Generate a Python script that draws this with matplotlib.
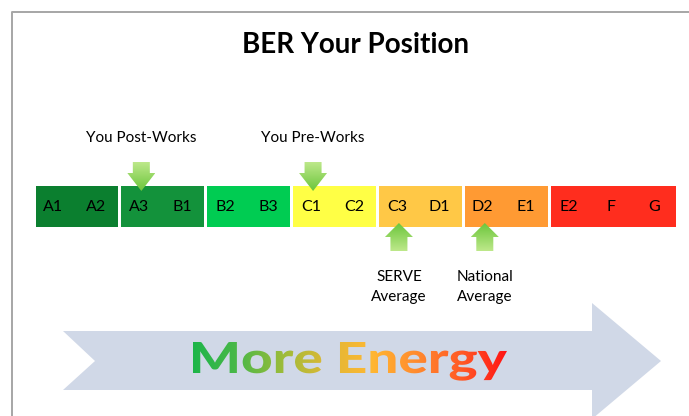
import numpy as np
import matplotlib
matplotlib.use("Agg")
import matplotlib.pyplot as plt
from matplotlib.patches import Polygon, PathPatch
from matplotlib.textpath import TextPath
from matplotlib.font_manager import FontProperties
from matplotlib.transforms import Affine2D
from matplotlib.colors import LinearSegmentedColormap

plt.rcParams['font.family'] = ['Lato', 'DejaVu Sans']

# Datos de la escala BER
ratings = ["A1", "A2", "A3", "B1", "B2", "B3", "C1", "C2",
           "C3", "D1", "D2", "E1", "E2", "F", "G"]
bands = [["A1", "A2"], ["A3", "B1"], ["B2", "B3"], ["C1", "C2"],
         ["C3", "D1"], ["D2", "E1"], ["E2", "F", "G"]]
band_colors = ["#0b7f2f", "#13923b", "#00cc52", "#ffff45",
               "#ffc846", "#ff9a33", "#ff2d1e"]

# Marcadores (etiqueta -> calificacion)
marks_above = {"You Post-Works": "A3", "You Pre-Works": "C1"}
marks_below = {"SERVE\nAverage": "C3", "National\nAverage": "D2"}

W, H = 689, 416
fig = plt.figure(figsize=(W / 100, H / 100), dpi=100)

# Capa de fondo en pixeles (borde, titulo, flecha grande)
bg = fig.add_axes([0, 0, 1, 1])
bg.set_xlim(0, W)
bg.set_ylim(H, 0)
bg.axis("off")

bg.plot([12, 12, W], [H, 12, 12], color="#a6a6a6", lw=1.4, solid_capstyle="butt")
bg.text(356, 45, "BER Your Position", ha="center", va="center",
        fontsize=20, fontweight="bold", color="black")

big_arrow = Polygon([(63, 331), (592, 331), (592, 303), (661, 361), (592, 419),
                     (592, 390), (63, 390), (95, 361)],
                    closed=True, facecolor="#d0d8e7", edgecolor="none", zorder=1)
bg.add_patch(big_arrow)

# Texto con degradado "More Energy"
fp = FontProperties(family="Lato", weight=900)
tp = TextPath((0, 0), "More Energy", size=1, prop=fp)
bb = tp.get_extents()
cap = TextPath((0, 0), "M", size=1, prop=fp).get_extents().height
x0, x1, base, cap_px = 193, 507, 373, 31
sx = (x1 - x0) / bb.width
sy = cap_px / cap
tr = Affine2D().translate(-bb.x0, 0).scale(sx, -sy).translate(x0, base)
text_patch = PathPatch(tr.transform_path(tp), facecolor="none", edgecolor="none",
                       transform=bg.transData)
bg.add_patch(text_patch)
energy_cmap = LinearSegmentedColormap.from_list(
    "energy", ["#1db54a", "#4cb848", "#9cbc3a", "#e0b836", "#ffb733",
               "#ff8a2e", "#ff5a26", "#ff1414"])
grad = np.linspace(0, 1, 256).reshape(1, -1)
im = bg.imshow(grad, extent=(x0, x1, base + 14, base - 36), cmap=energy_cmap,
               aspect="auto", zorder=2, interpolation="bilinear")
im.set_clip_path(text_patch)
bg.set_xlim(0, W)
bg.set_ylim(H, 0)

# Escala de calificaciones: x en unidades de calificacion, y en pixeles
ax = fig.add_axes([34 / W, 0, 644 / W, 1])
ax.set_xlim(0, len(ratings))
ax.set_ylim(H, 0)
ax.axis("off")
ax.patch.set_alpha(0)

gap = 0.07
start = 0
for band, col in zip(bands, band_colors):
    ax.barh(206.5, len(band) - gap, left=start + gap / 2, height=41,
            color=col, edgecolor="none", zorder=2)
    start += len(band)

for i, r in enumerate(ratings):
    ax.text(i + 0.45, 207, r, ha="center", va="center", fontsize=11.5,
            color="black", zorder=4)

arrow_cmap = LinearSegmentedColormap.from_list("arr", ["#bde88a", "#6cc63c"])
px = 644 / len(ratings)
hs, hh = 8.5 / px, 14 / px


def green_arrow(c, pts, y_top, y_bot, flip):
    poly = Polygon(pts, closed=True, facecolor="none", edgecolor="none",
                   transform=ax.transData)
    ax.add_patch(poly)
    g = np.linspace(0, 1, 64).reshape(-1, 1)
    if flip:
        g = g[::-1]
    img = ax.imshow(g, extent=(c - hh, c + hh, y_bot, y_top), cmap=arrow_cmap,
                    aspect="auto", zorder=5, interpolation="bilinear")
    img.set_clip_path(poly)


for label, r in marks_above.items():
    c = ratings.index(r) + 0.5
    pts = [(c - hs, 162), (c + hs, 162), (c + hs, 173), (c + hh, 173),
           (c, 191), (c - hh, 173), (c - hs, 173)]
    green_arrow(c, pts, 162, 191, False)
    ax.text(c, 138, label, ha="center", va="center", fontsize=11, color="black")

for label, r in marks_below.items():
    c = ratings.index(r) + 0.5
    pts = [(c, 223), (c + hh, 237), (c + hs, 237), (c + hs, 251),
           (c - hs, 251), (c - hs, 237), (c - hh, 237)]
    green_arrow(c, pts, 223, 251, True)
    ax.text(c, 287, label, ha="center", va="center", fontsize=11,
            color="black", linespacing=1.6)

ax.set_xlim(0, len(ratings))
ax.set_ylim(H, 0)

fig.savefig("out.png", dpi=100)
